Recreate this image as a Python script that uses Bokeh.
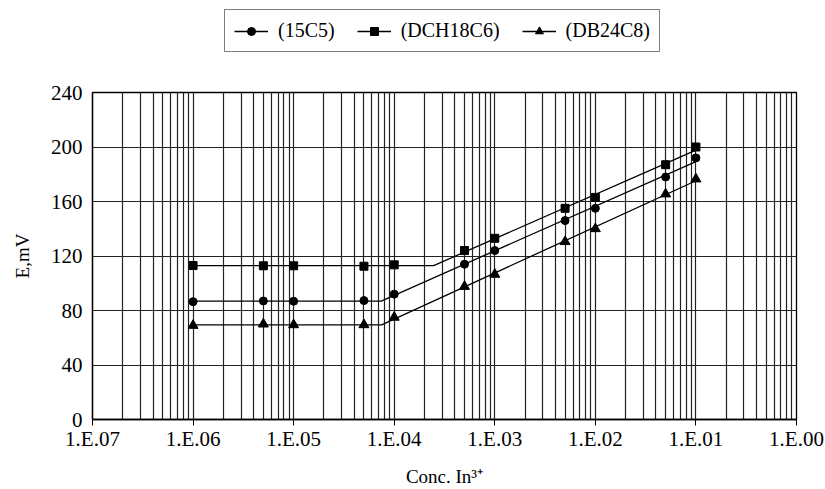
import numpy as np
from bokeh.plotting import figure
from bokeh.layouts import column
from bokeh.models import FixedTicker, Legend, LegendItem
from bokeh.embed import file_html
from bokeh.resources import INLINE

# ---- data ----
conc = [1e-6, 5e-6, 1e-5, 5e-5, 1e-4, 5e-4, 1e-3, 5e-3, 1e-2, 5e-2, 1e-1]
e_15c5 = [86.5, 87.0, 86.8, 87.3, 92.0, 114.0, 124.0, 146.0, 155.0, 178.0, 192.0]
e_dch18c6 = [113.0, 112.8, 112.8, 112.5, 113.5, 124.0, 133.0, 155.0, 163.0, 187.0, 200.0]
e_db24c8 = [69.0, 70.0, 69.5, 69.5, 75.0, 97.6, 106.5, 130.5, 140.0, 165.5, 176.5]
series_names = ["(15C5)", "(DCH18C6)", "(DB24C8)"]
series_markers = ["circle", "square", "triangle"]
# index where the sloped (Nernstian) part of each calibration curve starts
fit_split = [4, 5, 4]

x_major = [1e-7, 1e-6, 1e-5, 1e-4, 1e-3, 1e-2, 1e-1, 1e0]
x_labels = ["1.E.07", "1.E.06", "1.E.05", "1.E.04", "1.E.03", "1.E.02", "1.E.01", "1.E.00"]
y_ticks = [0, 40, 80, 120, 160, 200, 240]

FONT = "Liberation Serif"
W = 825
LEG_H = 70
MAIN_H = 489 - LEG_H

p = figure(width=W, height=MAIN_H, x_axis_type="log",
           x_range=(1e-7, 1e0), y_range=(0, 240),
           output_backend="svg", toolbar_location=None,
           min_border_left=92, min_border_right=29,
           min_border_top=22, min_border_bottom=69)

minor = [m * d for d in x_major[:-1] for m in range(2, 10)]
p.xaxis.ticker = FixedTicker(ticks=x_major, minor_ticks=minor)
p.xaxis.major_label_overrides = {t: l for t, l in zip(x_major, x_labels)}
p.yaxis.ticker = FixedTicker(ticks=y_ticks)

p.outline_line_color = "black"
p.outline_line_width = 1.3
for ax in (p.xaxis[0], p.yaxis[0]):
    ax.axis_line_color = "black"
    ax.axis_line_width = 1.3
    ax.major_label_text_font = FONT
    ax.major_label_text_font_size = "21px"
    ax.major_label_text_color = "black"
    ax.axis_label_text_font = FONT
    ax.axis_label_text_font_size = "19px"
    ax.axis_label_text_font_style = "normal"
    ax.axis_label_text_color = "black"
    ax.minor_tick_line_color = None
    ax.major_tick_in = 0

p.xaxis.major_tick_out = 6
p.xaxis.major_tick_line_color = "black"
p.xaxis.major_label_standoff = 1
p.xaxis.axis_label = "Conc. In\u00b3\u207a"
p.xaxis.axis_label_standoff = 12

p.yaxis.major_tick_out = 0
p.yaxis.major_label_standoff = 10
p.yaxis.axis_label = "E,mV"
p.yaxis.axis_label_standoff = 15

p.xgrid.grid_line_color = "#222222"
p.xgrid.grid_line_width = 1.2
p.xgrid.minor_grid_line_color = "#222222"
p.xgrid.minor_grid_line_width = 1.2
p.ygrid.grid_line_color = "#222222"
p.ygrid.grid_line_width = 1.2

# legend lives in its own strip above the chart (its view range hides the data)
lg = figure(width=W, height=LEG_H, output_backend="svg", toolbar_location=None,
            x_range=(0, 1), y_range=(0, 1),
            x_axis_location=None, y_axis_location=None,
            min_border_left=0, min_border_right=0, min_border_top=0, min_border_bottom=0)
lg.grid.visible = False
lg.outline_line_color = None

items = []
for vals, name, mk, k in zip([e_15c5, e_dch18c6, e_db24c8], series_names, series_markers, fit_split):
    lx = np.log10(np.array(conc))
    y = np.array(vals)
    plateau = y[:k].mean()
    slope, icpt = np.polyfit(lx[k:], y[k:], 1)
    x_bend = (plateau - icpt) / slope
    tx = [conc[0], 10 ** x_bend, conc[-1]]
    ty = [plateau, plateau, slope * lx[-1] + icpt]
    size = 8 if mk == "circle" else (8 if mk == "square" else 10)
    p.line(tx, ty, line_color="black", line_width=1.3)
    p.scatter(conc, vals, marker=mk, size=size, fill_color="black", line_color="black")
    l_line = lg.line(tx, ty, line_color="black", line_width=1.3)
    l_pts = lg.scatter(conc, vals, marker=mk, size=size, fill_color="black", line_color="black")
    items.append(LegendItem(label=name, renderers=[l_line, l_pts]))

# the strip's frame is aligned with the chart frame in the column, so x is frame-relative
legend = Legend(items=items, orientation="horizontal", location=(132, 18),
                label_text_font=FONT, label_text_font_size="20px", label_text_color="black",
                glyph_width=34, glyph_height=20, label_standoff=10, spacing=22,
                padding=9, margin=0, border_line_color="black", border_line_width=1.2,
                background_fill_color="white", background_fill_alpha=1.0)
lg.add_layout(legend, "center")

open("out.html", "w").write(file_html(column(lg, p), INLINE))
